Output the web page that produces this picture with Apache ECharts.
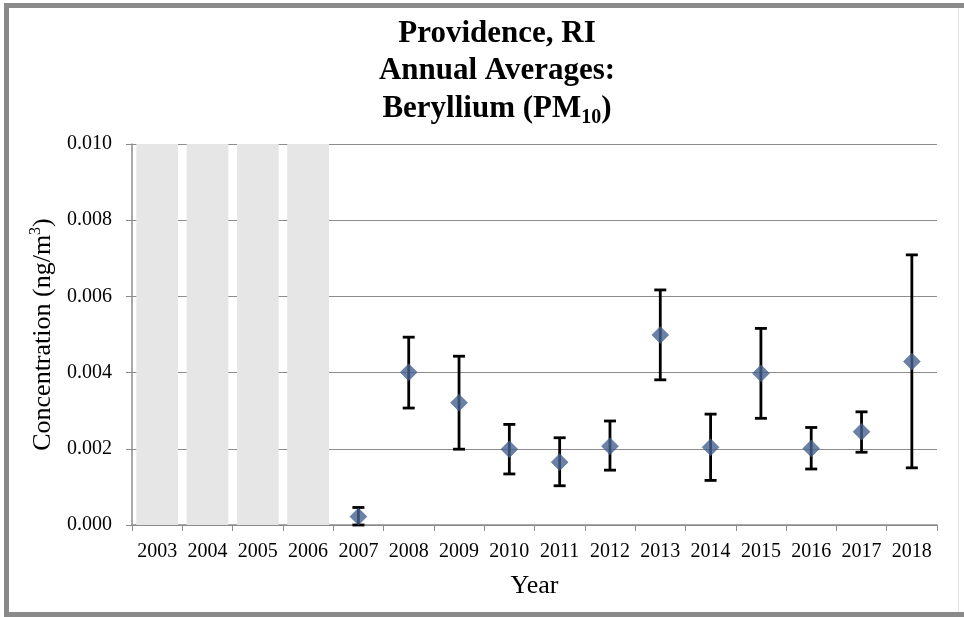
<!DOCTYPE html>
<html>
<head>
<meta charset="utf-8">
<script src="https://cdn.jsdelivr.net/npm/echarts@6/dist/echarts.min.js"></script>
<style>
  html, body { margin: 0; padding: 0; background: #ffffff; }
  #frame { position: absolute; left: 0; top: 0; width: 964px; height: 617px; overflow: hidden; background: #fff; }
  #bl { position: absolute; left: 4px; top: 3px; width: 5px; height: 614px; background: #8a8a8a; }
  #bt { position: absolute; left: 4px; top: 3px; width: 960px; height: 5px; background: #8a8a8a; }
  #bb { position: absolute; left: 4px; top: 612px; width: 960px; height: 5px; background: #8a8a8a; }
  #br { position: absolute; left: 958px; top: 8px; width: 1px; height: 604px; background: #e4e4e4; }
  #chart { position: absolute; left: 0; top: 0; width: 964px; height: 617px; }
</style>
</head>
<body>
<div id="frame">
  <div id="chart"></div>
  <div id="bl"></div><div id="bt"></div><div id="bb"></div><div id="br"></div>
</div>
<script>
// ---- data ----
var years = ['2003','2004','2005','2006','2007','2008','2009','2010','2011','2012','2013','2014','2015','2016','2017','2018'];
var noDataYears = ['2003','2004','2005','2006'];
var means = [null, null, null, null, 0.00022, 0.00401, 0.00321, 0.00199, 0.00165, 0.00207, 0.00499, 0.00204, 0.00398, 0.00201, 0.00245, 0.00429];
var upper = [null, null, null, null, 0.00046, 0.00493, 0.00443, 0.00264, 0.00229, 0.00273, 0.00617, 0.00291, 0.00516, 0.00256, 0.00297, 0.00709];
var lower = [null, null, null, null, 0.00000, 0.00307, 0.00199, 0.00134, 0.00103, 0.00144, 0.00381, 0.00117, 0.00280, 0.00147, 0.00191, 0.00150];
var yMin = 0, yMax = 0.010, yStep = 0.002;

var serif = '"Liberation Serif", "Times New Roman", serif';

var shadeData = years.map(function (y) { return noDataYears.indexOf(y) >= 0 ? yMax : null; });
var meanData = years.map(function (y, i) { return means[i] == null ? null : [y, means[i]]; }).filter(function (d) { return d; });
var errData = years.map(function (y, i) { return means[i] == null ? null : [y, lower[i], upper[i]]; }).filter(function (d) { return d; });

var chart = echarts.init(document.getElementById('chart'), null, { renderer: 'canvas' });
chart.setOption({
  animation: false,
  backgroundColor: 'transparent',
  title: {
    left: 492,
    top: 10,
    textAlign: 'center',
    text: '{t|Providence, RI}\n{t|Annual Averages:}\n{t|Beryllium (PM}{s|10}{t|)}',
    textStyle: {
      rich: {
        t: { fontFamily: serif, fontWeight: 'bold', fontSize: 31, lineHeight: 37.5, color: '#000' },
        s: { fontFamily: serif, fontWeight: 'bold', fontSize: 20, lineHeight: 37.5, verticalAlign: 'bottom', padding: [14, 0, 0, 0], color: '#000' }
      }
    }
  },
  grid: { left: 132, right: 27, top: 144, bottom: 92, containLabel: false },
  xAxis: {
    type: 'category',
    data: years,
    name: 'Year',
    nameLocation: 'middle',
    nameGap: 48,
    nameTextStyle: { fontFamily: serif, fontSize: 26, color: '#000' },
    axisLine: { lineStyle: { color: '#8c8c8c', width: 1.5 } },
    axisTick: { show: true, alignWithLabel: false, length: 6, lineStyle: { color: '#8c8c8c' } },
    axisLabel: { fontFamily: serif, fontSize: 20, color: '#000', margin: 17, interval: 0 },
    splitLine: { show: false }
  },
  yAxis: {
    type: 'value',
    min: yMin, max: yMax, interval: yStep,
    name: '{a|Concentration (ng/m}{b|3}{a|)}',
    nameLocation: 'middle',
    nameRotate: 90,
    nameGap: 69,
    nameTextStyle: {
      rich: {
        a: { fontFamily: serif, fontSize: 26, color: '#000', lineHeight: 30 },
        b: { fontFamily: serif, fontSize: 16, color: '#000', verticalAlign: 'top', lineHeight: 30, padding: [0, 0, 12, 0] }
      }
    },
    axisLine: { show: true, lineStyle: { color: '#8c8c8c', width: 1.5 } },
    axisTick: { show: true, length: 6, lineStyle: { color: '#8c8c8c' } },
    axisLabel: { fontFamily: serif, fontSize: 20, color: '#000', margin: 20,
      formatter: function (v) { return v.toFixed(3); } },
    splitLine: { show: true, lineStyle: { color: '#8c8c8c', width: 1.2 } }
  },
  series: [
    {
      type: 'bar',
      data: shadeData,
      barCategoryGap: '17%',
      itemStyle: { color: '#e6e6e6' },
      z: 1,
      silent: true
    },
    {
      type: 'custom',
      data: errData,
      z: 3,
      renderItem: function (params, api) {
        var x = api.value(0);
        var lo = api.coord([x, api.value(1)]);
        var hi = api.coord([x, api.value(2)]);
        var hw = 6;
        var st = { stroke: '#000', lineWidth: 2.8 };
        return {
          type: 'group',
          children: [
            { type: 'line', shape: { x1: lo[0], y1: lo[1], x2: hi[0], y2: hi[1] }, style: st },
            { type: 'line', shape: { x1: hi[0] - hw, y1: hi[1], x2: hi[0] + hw, y2: hi[1] }, style: st },
            { type: 'line', shape: { x1: lo[0] - hw, y1: lo[1], x2: lo[0] + hw, y2: lo[1] }, style: st }
          ]
        };
      },
      encode: { x: 0, y: [1, 2] }
    },
    {
      type: 'scatter',
      data: meanData,
      symbol: 'diamond',
      symbolSize: [17, 17],
      itemStyle: { color: '#46628f', borderColor: '#3f5a85', borderWidth: 0.5 },
      z: 4
    }
  ]
});
</script>
</body>
</html>
